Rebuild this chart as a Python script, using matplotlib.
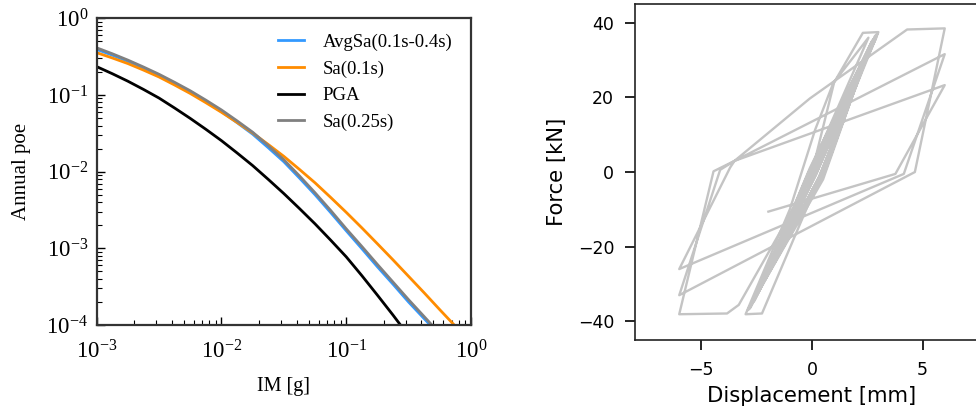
import numpy as np
import matplotlib
matplotlib.use("Agg")
import matplotlib.pyplot as plt

# ---------------- data: hazard curves (log10 IM [g], log10 annual poe) ----------------
log_im_avgsa = [-3.0, -2.875, -2.75, -2.625, -2.5, -2.375, -2.25, -2.125, -2.0, -1.875, -1.75, -1.625,
                -1.5, -1.375, -1.25, -1.125, -1.0, -0.875, -0.75, -0.625, -0.5, -0.327]
log_poe_avgsa = [-0.405, -0.48, -0.56, -0.65, -0.745, -0.85, -0.96, -1.085, -1.215, -1.36, -1.51, -1.687,
                 -1.87, -2.082, -2.30, -2.532, -2.77, -3.003, -3.24, -3.467, -3.70, -4.0]

log_im_sa01 = [-3.0, -2.875, -2.75, -2.625, -2.5, -2.375, -2.25, -2.125, -2.0, -1.875, -1.75, -1.625,
               -1.5, -1.375, -1.25, -1.125, -1.0, -0.875, -0.75, -0.625, -0.5, -0.375, -0.25, -0.14]
log_poe_sa01 = [-0.448, -0.517, -0.59, -0.675, -0.765, -0.87, -0.98, -1.10, -1.225, -1.357, -1.495, -1.645,
                -1.80, -1.97, -2.145, -2.335, -2.53, -2.732, -2.94, -3.15, -3.365, -3.58, -3.80, -3.99]

log_im_pga = [-3.0, -2.875, -2.75, -2.625, -2.5, -2.375, -2.25, -2.125, -2.0, -1.875, -1.75, -1.625,
              -1.5, -1.375, -1.25, -1.125, -1.0, -0.875, -0.75, -0.625, -0.5]
log_poe_pga = [-0.63, -0.722, -0.82, -0.927, -1.04, -1.17, -1.305, -1.447, -1.595, -1.755, -1.92, -2.10,
               -2.285, -2.48, -2.68, -2.892, -3.11, -3.355, -3.61, -3.87, -4.14]

log_im_sa025 = [-3.0, -2.875, -2.75, -2.625, -2.5, -2.375, -2.25, -2.125, -2.0, -1.875, -1.75, -1.625,
                -1.5, -1.375, -1.25, -1.125, -1.0, -0.875, -0.75, -0.625, -0.5, -0.313]
log_poe_sa025 = [-0.385, -0.462, -0.545, -0.635, -0.73, -0.835, -0.945, -1.067, -1.195, -1.337, -1.485, -1.66,
                 -1.845, -2.055, -2.275, -2.505, -2.745, -2.975, -3.21, -3.44, -3.67, -4.0]

labels = ["AvgSa(0.1s-0.4s)", "Sa(0.1s)", "PGA", "Sa(0.25s)"]
colors = ["#3399ff", "#ff8c00", "black", "gray"]

# ---------------- data: hysteresis path ----------------
disp = [0.0, 1.0, 2.3, 3.0, 1.13, -0.08, -2.26, -3.0, -1.0, 0.14, 0.96, 2.55,
        -2.75, 0.05, 2.85, 0.35, -2.70, 0.0, 2.80, 0.40, -2.80, 0.10, 2.90, 0.30,
        -2.65, -0.15, 2.75, 0.55, -2.85, 0.25, 2.95, 0.15,
        -2.60, -0.10, 2.70, 0.50, -2.90, 0.20, 2.85, 0.45,
        -2.75, 0.30, 2.90, 0.05,
        -3.31, -3.84, -6.0, -4.45, -3.5, -0.1, 4.3, 6.0,
        4.65, -6.0, -4.15, -3.5, 6.0,
        4.15, -6.0, -3.7, -3.5, 6.0,
        3.77, -1.97]
force = [0.0, 24.0, 37.3, 37.5, 10.4, -7.5, -37.9, -38.1, -10.0, 11.3, 23.8, 36.0,
         -35.8, 0.5, 36.2, -1.0, -35.0, 0.0, 35.8, -0.5, -36.5, 1.0, 36.8, -1.5,
         -34.8, 0.0, 35.5, -0.5, -36.8, 0.5, 37.0, -1.0,
         -34.5, 1.0, 35.0, -2.0, -37.0, -0.5, 36.5, -1.5,
         -35.5, 1.5, 36.0, -0.5,
         -35.6, -37.9, -38.1, 0.2, 3.0, 19.7, 38.2, 38.5,
         0.0, -33.0, 0.6, 3.0, 31.6,
         -0.5, -26.0, 1.2, 3.0, 23.3,
         -0.5, -10.6]

fig = plt.figure(figsize=(9.76, 4.12), dpi=100)
plt.rcParams['mathtext.fontset'] = 'stix'
serif = 'Liberation Serif'

# ---------------- left: hazard curves ----------------
ax1 = fig.add_axes([0.099, 0.211, 0.3836, 0.7446])
series = [(log_im_avgsa, log_poe_avgsa), (log_im_sa01, log_poe_sa01),
          (log_im_pga, log_poe_pga), (log_im_sa025, log_poe_sa025)]
for (lx, ly), lab, c in zip(series, labels, colors):
    ax1.plot(np.power(10.0, lx), np.power(10.0, ly), color=c, lw=2.0, label=lab,
             solid_joinstyle='round')
ax1.set_xscale('log')
ax1.set_yscale('log')
ax1.set_xlim(1e-3, 1)
ax1.set_ylim(1e-4, 1)
ax1.set_xlabel('IM [g]', fontfamily=serif, fontsize=14.5, labelpad=10)
ax1.set_ylabel('Annual poe', fontfamily=serif, fontsize=15, labelpad=11)
ax1.tick_params(which='both', direction='in', top=False, right=False, labelsize=16.5)
ax1.tick_params(axis='x', which='both', pad=11)
ax1.tick_params(axis='y', which='both', pad=6)
ax1.tick_params(which='major', length=6, width=1.0)
ax1.tick_params(which='minor', length=3.5, width=0.8)
for sp in ax1.spines.values():
    sp.set_color('#333333')
    sp.set_linewidth(1.6)
for t in ax1.get_xticklabels() + ax1.get_yticklabels():
    t.set_fontfamily(serif)
ax1.legend(loc='upper right', frameon=False, prop={'family': serif, 'size': 13.5},
           handlelength=1.4, handletextpad=1.0, labelspacing=0.5,
           bbox_to_anchor=(0.995, 1.005))

# ---------------- right: hysteresis ----------------
ax2 = fig.add_axes([0.6506, 0.1748, 0.3627, 0.8152])
ax2.plot(disp, force, color='#c4c4c4', lw=1.7)
ax2.set_xlim(-8, 8)
ax2.set_ylim(-45, 45)
ax2.set_xticks([-5, 0, 5])
ax2.set_yticks([-40, -20, 0, 20, 40])
ax2.set_xlabel('Displacement [mm]', fontsize=15.2, labelpad=5)
ax2.set_ylabel('Force [kN]', fontsize=15.2, labelpad=8)
ax2.tick_params(labelsize=12.5, length=7, width=1.2, pad=8)
for sp in ax2.spines.values():
    sp.set_color('#222222')
    sp.set_linewidth(1.2)

fig.savefig('out.png', dpi=100)
